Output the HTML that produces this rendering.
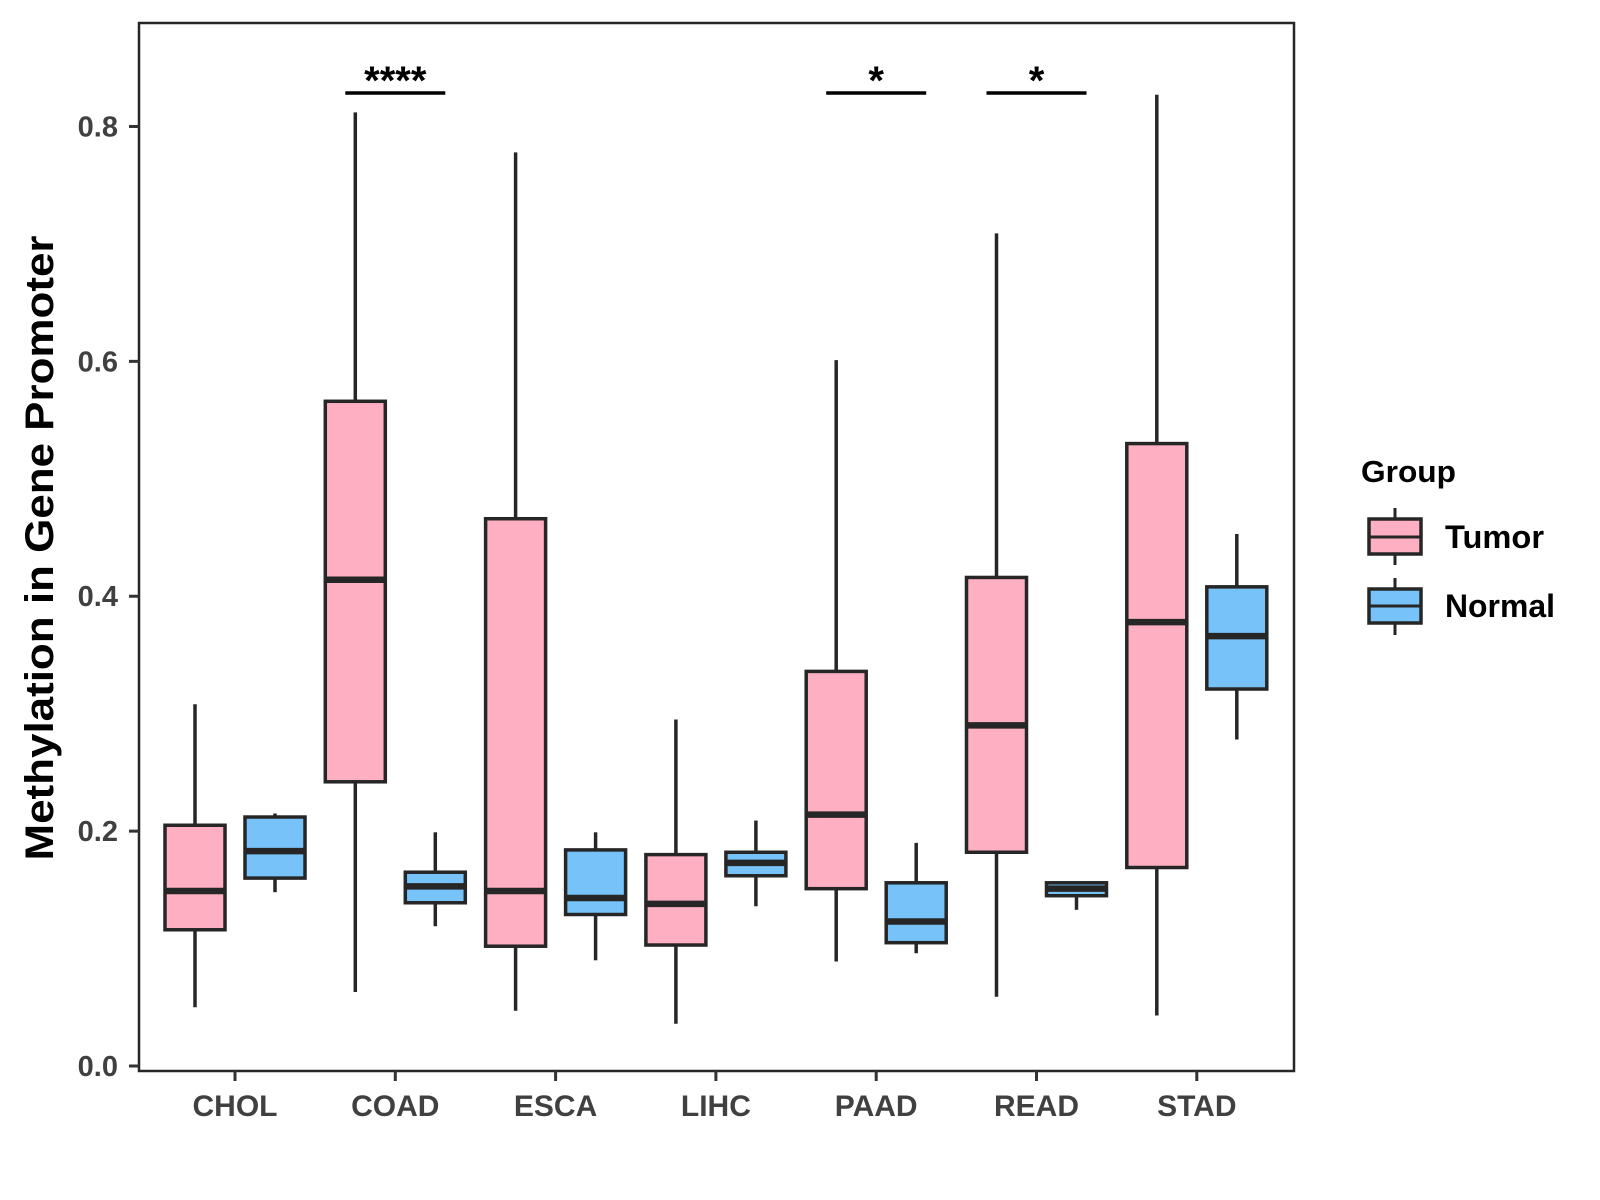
<!DOCTYPE html>
<html><head><meta charset="utf-8"><style>
html,body{margin:0;padding:0;background:#fff;}
svg{display:block;font-family:"Liberation Sans",Arial,sans-serif;font-weight:bold;}
</style></head><body>
<svg id="chart" width="1600" height="1200" viewBox="0 0 1600 1200">
<rect x="0" y="0" width="1600" height="1200" fill="#fff"/>
<g id="marks"></g>
<rect x="139" y="23" width="1155" height="1048" fill="none" stroke="#262626" stroke-width="2.5"/>
<g id="axes"></g>
<text x="40" y="548" transform="rotate(-90 40 548)" text-anchor="middle" dominant-baseline="central" font-size="40" textLength="625" lengthAdjust="spacingAndGlyphs" fill="#000">Methylation in Gene Promoter</text>
<g>
<text x="1361" y="482" font-size="31" textLength="95" lengthAdjust="spacingAndGlyphs" fill="#000">Group</text>
<g>
<line x1="1395" y1="508" x2="1395" y2="565" stroke="#262626" stroke-width="3"/>
<rect x="1369" y="519" width="52" height="35" fill="#FFAFC2" stroke="#262626" stroke-width="3.5"/>
<line x1="1369" y1="537" x2="1421" y2="537" stroke="#262626" stroke-width="3"/>
<text x="1445" y="548" font-size="32" textLength="99" lengthAdjust="spacingAndGlyphs" fill="#000">Tumor</text>
</g>
<g>
<line x1="1395" y1="578" x2="1395" y2="635" stroke="#262626" stroke-width="3"/>
<rect x="1369" y="589" width="52" height="34" fill="#77C2F9" stroke="#262626" stroke-width="3.5"/>
<line x1="1369" y1="606" x2="1421" y2="606" stroke="#262626" stroke-width="3"/>
<text x="1445" y="617" font-size="32" textLength="110" lengthAdjust="spacingAndGlyphs" fill="#000">Normal</text>
</g>
</g>
</svg>
<script>
const categories = ["CHOL","COAD","ESCA","LIHC","PAAD","READ","STAD"];
// [lowerWhisker, Q1, median, Q3, upperWhisker]
const tumorStats = [
  [0.050,0.116,0.149,0.205,0.308],
  [0.063,0.242,0.414,0.566,0.812],
  [0.047,0.102,0.149,0.466,0.778],
  [0.036,0.103,0.138,0.180,0.295],
  [0.089,0.151,0.214,0.336,0.601],
  [0.059,0.182,0.290,0.416,0.709],
  [0.043,0.169,0.378,0.530,0.827]
];
const normalStats = [
  [0.148,0.160,0.183,0.212,0.215],
  [0.119,0.139,0.153,0.165,0.199],
  [0.090,0.129,0.143,0.184,0.199],
  [0.136,0.162,0.173,0.182,0.209],
  [0.096,0.105,0.123,0.156,0.190],
  [0.133,0.145,0.151,0.156,0.156],
  [0.278,0.321,0.366,0.408,0.453]
];
const yTicks = [0.0,0.2,0.4,0.6,0.8];
const yTickLabels = ["0.0","0.2","0.4","0.6","0.8"];
const sigCategories = ["COAD","PAAD","READ"];
const sigLabels = ["****","*","*"];

const NS="http://www.w3.org/2000/svg";
const X0=235, XSTEP=160.3, DODGE=40, BW=60;
function xPos(i){return X0+i*XSTEP;}
function yPos(v){return 1066 - v*1174.4;}
function el(tag,attrs,parent){const e=document.createElementNS(NS,tag);for(const k in attrs)e.setAttribute(k,attrs[k]);parent.appendChild(e);return e;}
const marks=document.getElementById('marks');
const axes=document.getElementById('axes');

function drawBox(s,cx,fill,name){
  const g=el('g',{},marks);
  
  
  el('line',{x1:cx,x2:cx,y1:yPos(s[4]),y2:yPos(s[3]),stroke:'#262626','stroke-width':3.5},g);
  el('line',{x1:cx,x2:cx,y1:yPos(s[1]),y2:yPos(s[0]),stroke:'#262626','stroke-width':3.5},g);
  el('rect',{x:cx-BW/2,y:yPos(s[3]),width:BW,height:Math.max(1,yPos(s[1])-yPos(s[3])),fill:fill,stroke:'#262626','stroke-width':3.5},g);
  el('line',{x1:cx-BW/2,x2:cx+BW/2,y1:yPos(s[2]),y2:yPos(s[2]),stroke:'#262626','stroke-width':6.5},g);
}
categories.forEach((c,i)=>{
  drawBox(tumorStats[i],xPos(i)-DODGE,'#FFAFC2','box-tumor-'+c.toLowerCase());
  drawBox(normalStats[i],xPos(i)+DODGE,'#77C2F9','box-normal-'+c.toLowerCase());
  const t=el('line',{x1:xPos(i),x2:xPos(i),y1:1071,y2:1081,stroke:'#333','stroke-width':3},axes);
  
  
  const l=el('text',{x:xPos(i),y:1116,'text-anchor':'middle','font-size':30,fill:'#404040'},axes);
  l.textContent=c;
  
  
});
yTicks.forEach((v,i)=>{
  const t=el('line',{x1:129,x2:139,y1:yPos(v),y2:yPos(v),stroke:'#333','stroke-width':3},axes);
  
  
  const l=el('text',{x:118,y:yPos(v)+10,'text-anchor':'end','font-size':29,fill:'#404040'},axes);
  l.textContent=yTickLabels[i];
  
  
});
sigCategories.forEach((c,k)=>{
  const i=categories.indexOf(c);
  const g=el('g',{},marks);
  
  
  el('line',{x1:xPos(i)-50,x2:xPos(i)+50,y1:93,y2:93,stroke:'#000','stroke-width':3.5},g);
  const t=el('text',{x:xPos(i),y:94,'text-anchor':'middle','font-size':40,fill:'#000'},g);
  t.textContent=sigLabels[k];
});
</script>
</body></html>
